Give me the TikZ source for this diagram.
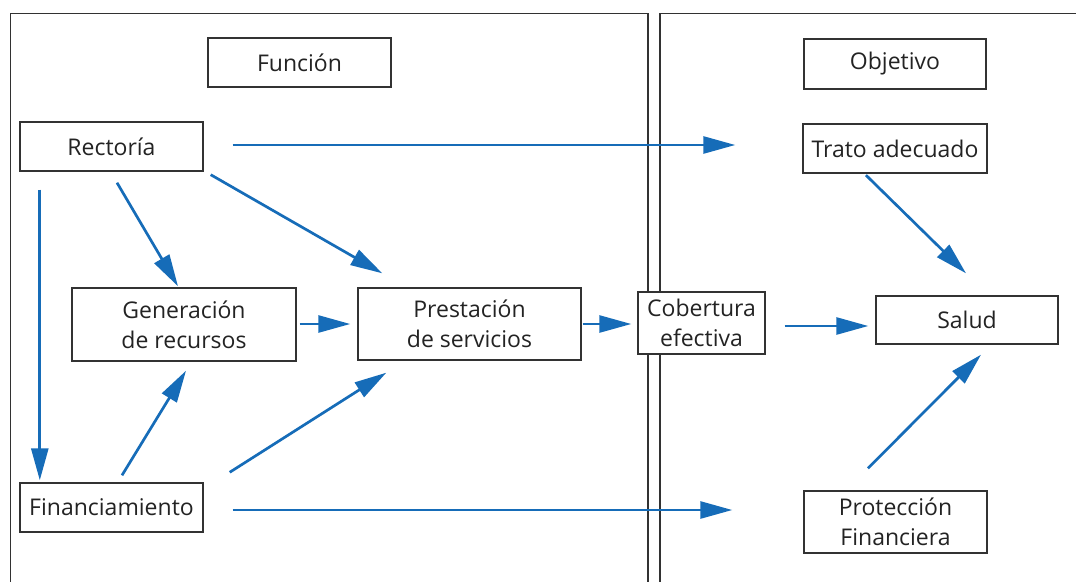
\documentclass[tikz,border=0pt]{standalone}
\usepackage{fontspec}
\setmainfont{Open Sans}
\usetikzlibrary{arrows.meta}
\definecolor{arrowblue}{RGB}{22,108,184}
\definecolor{boxgray}{RGB}{50,50,50}
\definecolor{txtgray}{RGB}{35,35,35}
\tikzset{
  box/.style={draw=boxgray, line width=1.4pt, fill=white, inner sep=0pt, align=center,
              text=txtgray, font=\fontsize{23}{30}\selectfont},
  panel/.style={draw=boxgray, line width=1.3pt},
  arr/.style={draw=arrowblue, line width=2.7pt, -{Triangle[length=32pt,width=17pt]}}
}
\begin{document}
\begin{tikzpicture}[x=1pt,y=-1pt]
\useasboundingbox (0,0) rectangle (1076,581);
\begin{scope}
\clip (0,0) rectangle (1076,581);
% panels
\draw[panel] (10.5,620) -- (10.5,13.5) -- (648,13.5) -- (648,620);
\draw[panel] (660,620) -- (660,13.5) -- (1100,13.5);
\end{scope}
% nodes
\node[box, minimum width=183pt, minimum height=49pt] (fun) at (299.5,62.5) {Función};
\node[box, minimum width=182pt, minimum height=50pt] (obj) at (895,64) {Objetivo};
\node[box, minimum width=183pt, minimum height=49pt] (rec) at (111.5,146.5) {Rectoría};
\node[box, minimum width=184pt, minimum height=49pt] (trato) at (895,148.5) {Trato adecuado};
\node[box, minimum width=224pt, minimum height=73pt] (gen) at (184,324.5) {Generación\\de recursos};
\node[box, minimum width=223pt, minimum height=72pt] (pres) at (469.5,324) {Prestación\\de servicios};
\node[box, minimum width=183pt, minimum height=49pt] (fin) at (111.5,507.5) {Financiamiento};
\node[box, minimum width=182pt, minimum height=48pt] (salud) at (967,320) {Salud};
\node[box, minimum width=183pt, minimum height=62pt] (prot) at (895.5,522) {Protección\\Financiera};
% arrows
\draw[arr] ([shift={(29,-1.5)}]rec.east) -- ([shift={(-67,-3.5)}]trato.west);
\draw[arr] ([shift={(7,3)}]rec.south east) -- ([shift={(25,-14)}]pres.north west);
\draw[arr] ([shift={(5.5,11)}]rec.south) -- ([shift={(-6,-1)}]gen.north);
\draw[arr] ([shift={(20.5,18)}]rec.south west) -- ([shift={(20.5,-2)}]fin.north west);
\draw[arr] ([shift={(10.5,-7)}]fin.north) -- ([shift={(2,9)}]gen.south);
\draw[arr] ([shift={(26,-10)}]fin.north east) -- ([shift={(29,12)}]pres.south west);
\draw[arr] ([shift={(29,2.5)}]fin.east) -- ([shift={(-71,-12)}]prot.west);
\draw[arr] ([shift={(3,-0.5)}]gen.east) -- ([shift={(-7,0)}]pres.west);
\node[box, minimum width=127pt, minimum height=62pt] (cob) at (701.5,323) {Cobertura\\efectiva};
\draw[arr] ([shift={(1,0)}]pres.east) -- ([shift={(-6,1)}]cob.west);
\draw[arr] ([shift={(19,3)}]cob.east) -- ([shift={(-7,6)}]salud.west);
\draw[arr] ([shift={(-29,1.5)}]trato.south) -- ([shift={(-1,-22)}]salud.north);
\draw[arr] ([shift={(-27.5,-22)}]prot.north) -- ([shift={(14,10)}]salud.south);
\end{tikzpicture}
\end{document}
